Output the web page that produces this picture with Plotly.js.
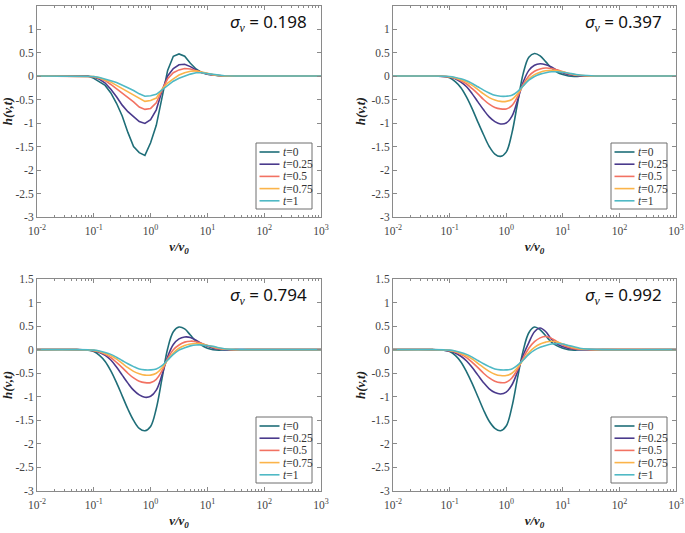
<!DOCTYPE html>
<html>
<head>
<meta charset="utf-8">
<script src="https://cdn.plot.ly/plotly-3.0.1.min.js"></script>
<style>html,body{margin:0;padding:0;background:#fff;}#plot{width:685px;height:533px;}</style>
</head>
<body>
<div id="plot"></div>
<script>
// shared sample positions (v/v0)
const xs = [0.01, 0.05, 0.0794, 0.1, 0.1259, 0.1585, 0.1995, 0.2512, 0.3162, 0.3981, 0.5012, 0.631, 0.7943, 1, 1.259, 1.585, 1.995, 2.512, 3.162, 3.981, 5.012, 6.31, 7.943, 10, 12.59, 15.85, 19.95, 31.62, 50.12, 1000];

const seriesNames = ["<i>t</i>=0", "<i>t</i>=0.25", "<i>t</i>=0.5", "<i>t</i>=0.75", "<i>t</i>=1"];
const sigmaLabels = ["0.198", "0.397", "0.794", "0.992"];
const yTickVals = [1.5, 1, 0.5, 0, -0.5, -1, -1.5, -2, -2.5, -3];
const yTickText = ["1.5", "1", "0.5", "0", "-0.5", "-1", "-1.5", "-2", "-2.5", "-3"];
const xTickVals = [0.01, 0.1, 1, 10, 100, 1000];
const xTickText = ["10<sup>-2</sup>", "10<sup>-1</sup>", "10<sup>0</sup>", "10<sup>1</sup>", "10<sup>2</sup>", "10<sup>3</sup>"];

// sigma = 0.198
const s198_t0   = [0,0,0,-0.05,-0.13,-0.2,-0.36,-0.58,-0.85,-1.2,-1.5,-1.63,-1.69,-1.42,-1.05,-0.5,0.12,0.42,0.47,0.42,0.27,0.15,0.07,0.04,0.02,0.005,0,0,0,0];
const s198_t25  = [0,0,-0.005,-0.02,-0.07,-0.15,-0.28,-0.44,-0.62,-0.76,-0.87,-0.97,-1.01,-0.93,-0.72,-0.32,0.0,0.16,0.24,0.25,0.2,0.13,0.08,0.04,0.02,0.005,0,0,0,0];
const s198_t50  = [0,0,-0.005,-0.015,-0.05,-0.1,-0.18,-0.27,-0.36,-0.45,-0.55,-0.66,-0.71,-0.69,-0.57,-0.3,-0.06,0.07,0.13,0.16,0.15,0.11,0.07,0.05,0.02,0.01,0,0,0,0];
const s198_t75  = [0,0,-0.005,-0.01,-0.04,-0.08,-0.13,-0.2,-0.27,-0.33,-0.4,-0.48,-0.54,-0.52,-0.47,-0.28,-0.15,-0.06,0.02,0.07,0.1,0.11,0.08,0.05,0.03,0.01,0,0,0,0];
const s198_t100 = [0,0,0,-0.01,-0.03,-0.06,-0.1,-0.14,-0.19,-0.25,-0.31,-0.38,-0.43,-0.42,-0.39,-0.3,-0.2,-0.11,-0.05,0.0,0.04,0.07,0.07,0.05,0.03,0.015,0.005,0,0,0];

// sigma = 0.397
const s397_t0   = [0,0,-0.01,-0.04,-0.12,-0.25,-0.45,-0.7,-0.98,-1.25,-1.5,-1.66,-1.71,-1.62,-1.22,-0.58,0.05,0.4,0.48,0.43,0.3,0.17,0.08,0.03,0,-0.01,-0.005,0,0,0];
const s397_t25  = [0,0,-0.01,-0.02,-0.06,-0.13,-0.23,-0.38,-0.55,-0.72,-0.87,-0.97,-1.02,-1.0,-0.86,-0.52,-0.13,0.12,0.23,0.26,0.24,0.19,0.12,0.07,0.03,0.01,0,0,0,0];
const s397_t50  = [0,0,-0.01,-0.02,-0.05,-0.1,-0.17,-0.27,-0.38,-0.5,-0.6,-0.67,-0.7,-0.7,-0.63,-0.44,-0.18,0,0.1,0.15,0.17,0.16,0.13,0.09,0.05,0.02,0.01,0,0,0];
const s397_t75  = [0,0,-0.005,-0.015,-0.04,-0.08,-0.13,-0.2,-0.29,-0.38,-0.46,-0.51,-0.54,-0.54,-0.5,-0.38,-0.21,-0.06,0.03,0.08,0.11,0.12,0.11,0.09,0.06,0.03,0.015,0,0,0];
const s397_t100 = [0,0,-0.005,-0.01,-0.03,-0.06,-0.1,-0.16,-0.23,-0.3,-0.36,-0.41,-0.43,-0.43,-0.41,-0.33,-0.21,-0.09,-0.01,0.04,0.07,0.09,0.09,0.08,0.06,0.04,0.02,0.005,0,0];

// sigma = 0.794
const s794_t0   = [0,0,-0.01,-0.04,-0.12,-0.25,-0.45,-0.7,-0.98,-1.26,-1.5,-1.67,-1.72,-1.63,-1.25,-0.62,0.02,0.38,0.48,0.44,0.31,0.18,0.09,0.03,0.0,-0.01,-0.005,0,0,0];
const s794_t25  = [0,0,-0.01,-0.02,-0.06,-0.12,-0.22,-0.37,-0.54,-0.71,-0.86,-0.96,-1.01,-0.99,-0.86,-0.54,-0.15,0.11,0.23,0.27,0.26,0.2,0.13,0.07,0.03,0.01,0,0,0,0];
const s794_t50  = [0,0,-0.01,-0.02,-0.05,-0.1,-0.17,-0.27,-0.38,-0.5,-0.6,-0.67,-0.7,-0.7,-0.63,-0.45,-0.19,0,0.1,0.16,0.18,0.17,0.13,0.09,0.05,0.02,0.01,0,0,0];
const s794_t75  = [0,0,-0.005,-0.015,-0.04,-0.08,-0.13,-0.2,-0.29,-0.38,-0.46,-0.51,-0.54,-0.54,-0.5,-0.39,-0.22,-0.07,0.03,0.09,0.12,0.13,0.12,0.09,0.06,0.03,0.015,0,0,0];
const s794_t100 = [0,0,-0.005,-0.01,-0.03,-0.06,-0.1,-0.16,-0.23,-0.3,-0.36,-0.41,-0.43,-0.43,-0.41,-0.34,-0.22,-0.1,-0.01,0.04,0.08,0.1,0.1,0.09,0.07,0.04,0.02,0.005,0,0];

// sigma = 0.992
const s992_t0   = [0,0,-0.01,-0.04,-0.12,-0.26,-0.47,-0.72,-1.0,-1.28,-1.52,-1.67,-1.72,-1.62,-1.22,-0.6,-0.02,0.36,0.48,0.42,0.29,0.16,0.08,0.03,0.0,-0.01,0,0,0,0];
const s992_t25  = [0,0,-0.01,-0.03,-0.07,-0.14,-0.24,-0.38,-0.54,-0.7,-0.83,-0.91,-0.94,-0.9,-0.75,-0.47,-0.12,0.15,0.38,0.46,0.38,0.22,0.12,0.06,0.03,0.01,0,0,0,0];
const s992_t50  = [0,0,-0.01,-0.02,-0.05,-0.1,-0.17,-0.27,-0.38,-0.5,-0.6,-0.67,-0.7,-0.69,-0.6,-0.42,-0.18,0.03,0.17,0.25,0.28,0.24,0.17,0.1,0.05,0.02,0.01,0,0,0];
const s992_t75  = [0,0,-0.005,-0.015,-0.04,-0.08,-0.13,-0.2,-0.29,-0.38,-0.46,-0.52,-0.55,-0.55,-0.5,-0.38,-0.22,-0.06,0.05,0.12,0.16,0.18,0.16,0.12,0.08,0.04,0.02,0.005,0,0];
const s992_t100 = [0,0,-0.005,-0.01,-0.03,-0.06,-0.1,-0.16,-0.23,-0.3,-0.36,-0.41,-0.43,-0.43,-0.41,-0.33,-0.22,-0.1,-0.01,0.05,0.09,0.12,0.13,0.12,0.09,0.06,0.03,0.01,0,0];

const colors = ["#1f6e78", "#4a3a8c", "#f27262", "#fbb44a", "#4fb9c5"];

const W = 685, H = 533;
const fx = px => px / W;
const fy = py => 1 - py / H;

const panels = [
  {n: "",  l: 37,  r: 321, t: 5.5, b: 217, shape: "linear", data: [s198_t0, s198_t25, s198_t50, s198_t75, s198_t100]},
  {n: "2", l: 393, r: 676, t: 5.5, b: 217, shape: "spline", data: [s397_t0, s397_t25, s397_t50, s397_t75, s397_t100]},
  {n: "3", l: 37,  r: 321, t: 279, b: 491, shape: "spline", data: [s794_t0, s794_t25, s794_t50, s794_t75, s794_t100]},
  {n: "4", l: 393, r: 676, t: 279, b: 491, shape: "spline", data: [s992_t0, s992_t25, s992_t50, s992_t75, s992_t100]}
];

const minorVals = [];
for (let d = -2; d < 3; d++) for (let m = 2; m <= 9; m++) minorVals.push(m * Math.pow(10, d));

const traces = [];
const layout = {
  width: W, height: H,
  margin: {l: 0, r: 0, t: 0, b: 0},
  paper_bgcolor: "#fff", plot_bgcolor: "#fff",
  showlegend: false,
  shapes: [], annotations: []
};

const tickFont = {family: "Liberation Serif, Times New Roman, serif", size: 11.5, color: "#444"};
const titleFont = {family: "Liberation Serif, Times New Roman, serif", size: 13, color: "#222", weight: "bold", style: "italic"};

panels.forEach((p, k) => {
  p.data.forEach((ys, i) => {
    traces.push({
      x: xs, y: ys, type: "scatter", mode: "lines",
      xaxis: "x" + p.n, yaxis: "y" + p.n,
      name: seriesNames[i],
      line: {color: colors[i], width: 1.6, shape: p.shape, smoothing: 1},
      hoverinfo: "skip"
    });
  });
  layout["xaxis" + p.n] = {
    type: "log", range: [-2, 3],
    domain: [fx(p.l), fx(p.r)],
    anchor: "y" + p.n,
    showline: true, linecolor: "#8a8a8a", linewidth: 1, mirror: "allticks",
    ticks: "inside", ticklen: 4, tickcolor: "#8a8a8a", tickwidth: 1,
    tickmode: "array", tickvals: xTickVals, ticktext: xTickText,
    ticklabelstandoff: 3,
    tickfont: tickFont, showgrid: false, zeroline: false,
    minor: {ticks: "inside", ticklen: 2, tickcolor: "#8a8a8a", tickmode: "array", tickvals: minorVals, showgrid: false},
    title: {text: "<i>v</i>/<i>v</i><sub>0</sub>", font: titleFont, standoff: 6},
    automargin: false
  };
  layout["yaxis" + p.n] = {
    range: [-3, 1.5],
    domain: [fy(p.b), fy(p.t)],
    anchor: "x" + p.n,
    showline: true, linecolor: "#8a8a8a", linewidth: 1, mirror: "ticks",
    ticks: "inside", ticklen: 4, tickcolor: "#8a8a8a", tickwidth: 1,
    tickmode: "array", tickvals: yTickVals, ticktext: yTickText,
    tickfont: tickFont, showgrid: false, zeroline: false,
    title: {text: "<i>h</i>(<i>v</i>,<i>t</i>)", font: titleFont, standoff: 2},
    automargin: false
  };

  // sigma label
  layout.annotations.push({
    xref: "paper", yref: "paper", x: fx(p.r - 12), y: fy(p.t + 16.5),
    xanchor: "right", yanchor: "middle", showarrow: false,
    text: "<i>σ</i><sub><span style=\"font-family:'Liberation Serif'\"><i>v</i></span></sub> = " + sigmaLabels[k],
    font: {family: "Noto Sans, DejaVu Sans, sans-serif", size: 17, color: "#111"}
  });

  // legend box
  const bR = p.r - 9, bB = p.b - 8, bL = bR - 56, bT = bB - 66;
  layout.shapes.push({type: "rect", xref: "paper", yref: "paper",
    x0: fx(bL), x1: fx(bR), y0: fy(bB), y1: fy(bT),
    line: {color: "#6f6f6f", width: 1}, fillcolor: "#fff", layer: "above"});
  seriesNames.forEach((nm, i) => {
    const ry = bT + 9 + i * 12.2;
    layout.shapes.push({type: "line", xref: "paper", yref: "paper",
      x0: fx(bL + 3.5), x1: fx(bL + 23.5), y0: fy(ry), y1: fy(ry),
      line: {color: colors[i], width: 1.6}, layer: "above"});
    layout.annotations.push({xref: "paper", yref: "paper",
      x: fx(bL + 24.5), y: fy(ry), xanchor: "left", yanchor: "middle",
      showarrow: false, text: nm,
      font: {family: "Liberation Serif, Times New Roman, serif", size: 11.5, color: "#333"}});
  });
});

Plotly.newPlot("plot", traces, layout, {staticPlot: true, displayModeBar: false});
</script>
</body>
</html>
